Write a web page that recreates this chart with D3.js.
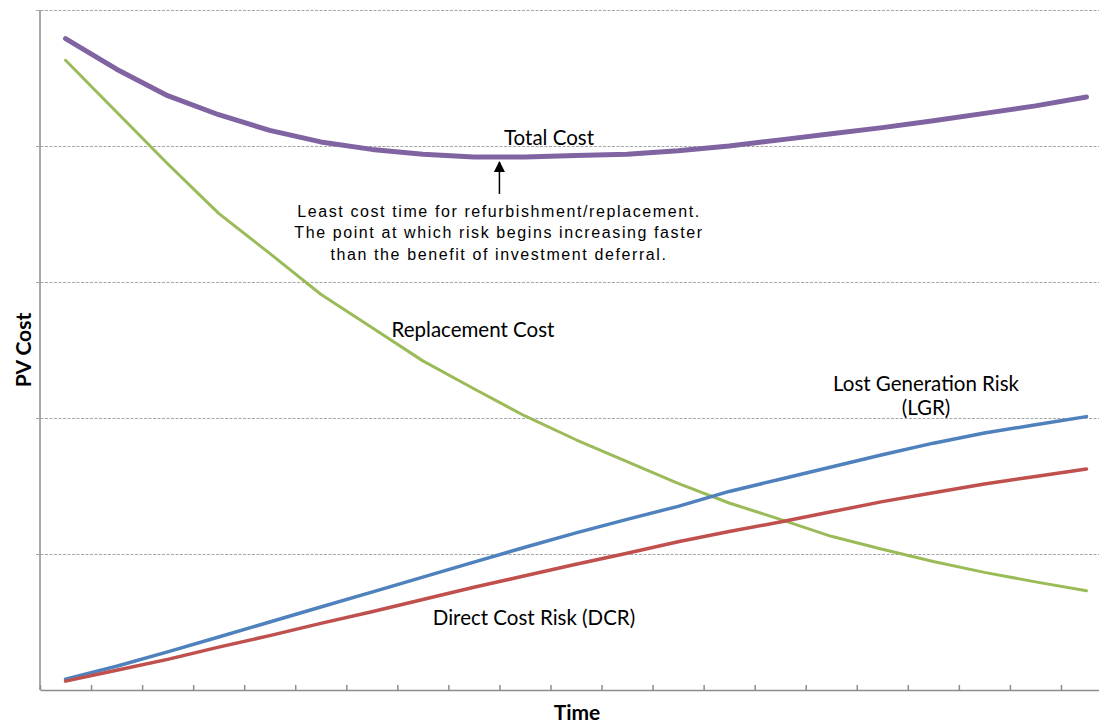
<!DOCTYPE html>
<html>
<head>
<meta charset="utf-8">
<script src="https://cdn.jsdelivr.net/npm/d3@7"></script>
<style>
  body { margin: 0; background: #fff; }
  svg { display: block; }
  .grid line { stroke: #a6a6a6; stroke-width: 1; stroke-dasharray: 3,1.5; }
  .grid path { display: none; }
  .xaxis path, .xaxis line { stroke: #8c8c8c; stroke-width: 1.5; }
  .line { fill: none; stroke-linejoin: round; stroke-linecap: round; }
  .label { font-family: Lato, "Open Sans", sans-serif; font-size: 20.5px; fill: #000; }
  .title { font-family: Lato, "Open Sans", sans-serif; font-size: 21px; font-weight: bold; fill: #000; }
  .note { font-family: "Liberation Sans", Arial, sans-serif; font-size: 16px; letter-spacing: 1.6px; fill: #000; }
</style>
</head>
<body>
<script>
var w = 1099;
var h = 724;

// time periods along the x axis (no labels shown on the chart)
const periods = d3.range(1, 22);

// series values, PV cost on a 0-100 scale
const totalCost = [95.8, 91.3, 87.4, 84.6, 82.3, 80.6, 79.5, 78.8, 78.4, 78.4, 78.6,
                   78.8, 79.3, 80.0, 80.9, 81.8, 82.7, 83.7, 84.8, 85.9, 87.2];
const replacementCost = [92.6, 85.0, 77.4, 70.1, 64.2, 58.2, 53.3, 48.4, 44.3, 40.3, 36.8,
                         33.6, 30.4, 27.5, 25.1, 22.6, 20.7, 18.9, 17.3, 15.9, 14.6];
const lgr = [1.6, 3.5, 5.6, 7.8, 10.0, 12.2, 14.4, 16.6, 18.8, 21.0, 23.1,
             25.1, 27.0, 29.2, 31.0, 32.8, 34.6, 36.3, 37.8, 39.0, 40.2];
const dcr = [1.3, 2.9, 4.5, 6.3, 8.0, 9.8, 11.5, 13.3, 15.1, 16.8, 18.5,
             20.1, 21.8, 23.3, 24.7, 26.2, 27.7, 29.0, 30.3, 31.4, 32.5];

const gridTicks = [20, 40, 60, 80, 100];

const series = [
    { name: "Replacement Cost", values: replacementCost, color: "#9bbb59", width: 3 },
    { name: "LGR", values: lgr, color: "#4f81bd", width: 3.5 },
    { name: "DCR", values: dcr, color: "#c0504d", width: 3.5 },
    { name: "Total Cost", values: totalCost, color: "#8064a2", width: 5 }
];

// plot area runs a little past the right edge of the picture
const plotLeft = 40, plotRight = 1112, plotTop = 10, plotBottom = 690;

const xScale = d3.scaleLinear()
    .domain([0, periods.length])
    .range([plotLeft, plotRight]);

const yScale = d3.scaleLinear()
    .domain([0, 100])
    .range([plotBottom, plotTop]);

const svg = d3.select("body")
    .append("svg")
    .attr("width", w)
    .attr("height", h);

// dashed gridlines
svg.append("g")
    .attr("class", "grid")
    .attr("transform", `translate(${plotLeft - 4}, 0)`)
    .call(d3.axisLeft(yScale)
        .tickValues(gridTicks)
        .tickSize(-(plotRight - plotLeft + 4))
        .tickFormat(""));

// y axis line
svg.append("line")
    .attr("x1", plotLeft).attr("x2", plotLeft)
    .attr("y1", yScale(100)).attr("y2", yScale(0))
    .attr("stroke", "#8c8c8c")
    .attr("stroke-width", 1.5);

// x axis, tick marks between periods
svg.append("g")
    .attr("class", "xaxis")
    .attr("transform", `translate(0, ${plotBottom})`)
    .call(d3.axisBottom(xScale)
        .tickValues(d3.range(0, periods.length + 1))
        .tickSizeInner(-5)
        .tickSizeOuter(0)
        .tickFormat(""));

const line = d3.line()
    .x((d, i) => xScale(i + 0.5))
    .y(d => yScale(d));

series.forEach(s => {
    svg.append("path")
        .datum(s.values)
        .attr("class", "line")
        .attr("stroke", s.color)
        .attr("stroke-width", s.width)
        .attr("d", line);
});

// axis titles
svg.append("text")
    .attr("class", "title")
    .attr("text-anchor", "middle")
    .attr("transform", "translate(31, 350) rotate(-90)")
    .text("PV Cost");

svg.append("text")
    .attr("class", "title")
    .attr("text-anchor", "middle")
    .attr("x", 577)
    .attr("y", 720)
    .text("Time");

// series labels
const labels = [
    { text: "Total Cost", x: 549, y: 145 },
    { text: "Replacement Cost", x: 473, y: 337 },
    { text: "Lost Generation Risk", x: 926, y: 391 },
    { text: "(LGR)", x: 926, y: 415 },
    { text: "Direct Cost Risk (DCR)", x: 534, y: 625 }
];

svg.selectAll(".label")
    .data(labels)
    .enter()
    .append("text")
    .attr("class", "label")
    .attr("text-anchor", "middle")
    .attr("x", d => d.x)
    .attr("y", d => d.y)
    .text(d => d.text);

// annotation arrow pointing between the two lowest total cost points
const minIndex = totalCost.indexOf(d3.min(totalCost));
const arrowX = xScale(minIndex + 1);

svg.append("defs").append("marker")
    .attr("id", "arrowhead")
    .attr("viewBox", "0 0 10 10")
    .attr("refX", 9).attr("refY", 5)
    .attr("markerWidth", 12).attr("markerHeight", 11)
    .attr("markerUnits", "userSpaceOnUse")
    .attr("orient", "auto")
    .append("path")
    .attr("d", "M0,0 L10,5 L0,10 Z")
    .attr("fill", "#000");

svg.append("line")
    .attr("x1", arrowX).attr("x2", arrowX)
    .attr("y1", 194).attr("y2", 162)
    .attr("stroke", "#000")
    .attr("stroke-width", 1.5)
    .attr("marker-end", "url(#arrowhead)");

const note = [
    "Least cost time for refurbishment/replacement.",
    "The point at which risk begins increasing faster",
    "than the benefit of investment deferral."
];

svg.append("text")
    .attr("class", "note")
    .attr("text-anchor", "middle")
    .selectAll("tspan")
    .data(note)
    .enter()
    .append("tspan")
    .attr("x", 499)
    .attr("y", (d, i) => 217 + i * 21.3)
    .text(d => d);
</script>
</body>
</html>
